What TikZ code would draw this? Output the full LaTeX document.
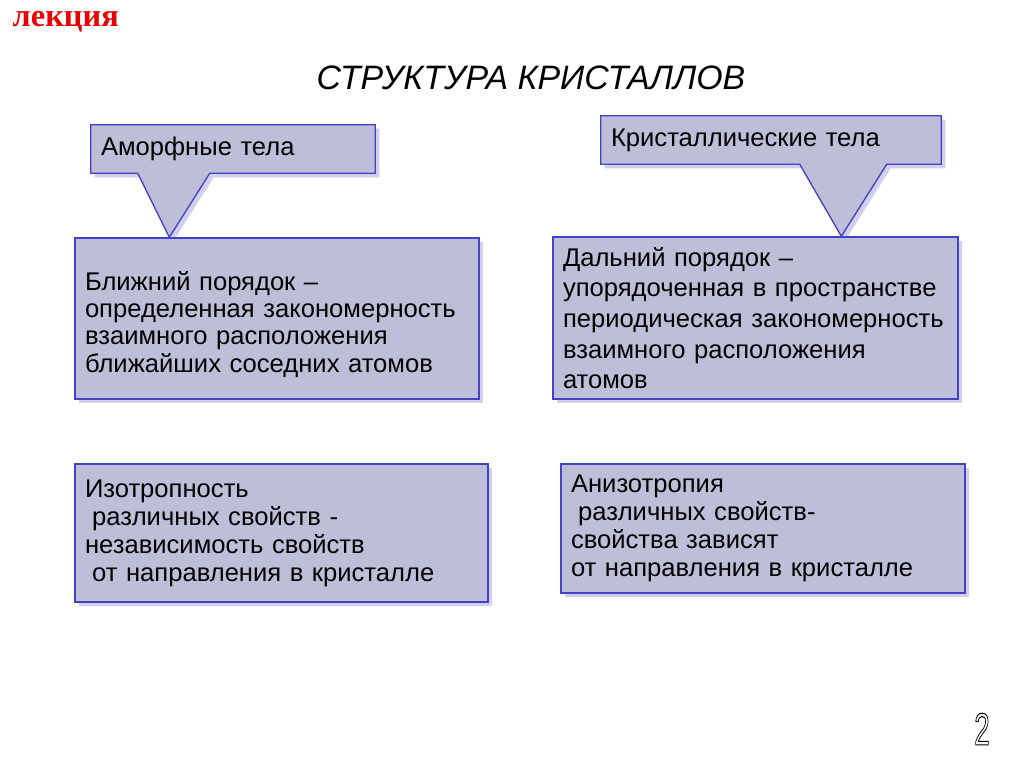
\documentclass[tikz,border=0pt]{standalone}
\usepackage{fontspec}
\setmainfont{Liberation Sans}
\newfontfamily\lectfont{Liberation Serif}
\usepackage{xcolor}
\usepackage{tikz}
\usetikzlibrary{shadows, calc, backgrounds}

\definecolor{boxfill}{RGB}{190,190,216}
\definecolor{boxedge}{RGB}{66,66,196}
\definecolor{boxshade}{RGB}{208,208,238}
\definecolor{lectred}{RGB}{232,0,0}

\begin{document}
\begin{tikzpicture}[x=0.75pt, y=0.75pt,
    panel/.style={rectangle, draw=boxedge, line width=1pt, fill=boxfill, drop shadow={shadow xshift=3pt, shadow yshift=-3pt, fill=boxshade, opacity=1}, inner xsep=7.5pt, inner ysep=4pt, align=left, font=\fontsize{19.2}{21}\selectfont},
    callout/.style={rectangle, minimum height=36pt, inner xsep=7.5pt, align=left, font=\fontsize{19.2}{21}\selectfont},
    balloon/.style={draw=boxedge, line width=1pt, fill=boxfill, line join=miter, drop shadow={shadow xshift=3pt, shadow yshift=-3pt, fill=boxshade, opacity=1}}
]
\useasboundingbox (0,0) rectangle (1024,767);

\node[anchor=west, font=\lectfont\bfseries\fontsize{24.3}{28}\selectfont, text=lectred] (lecture) at (8,745) {лекция};
\node[font=\itshape\fontsize{25.4}{30}\selectfont] (title) at (531,689) {СТРУКТУРА КРИСТАЛЛОВ};

\node[callout, minimum width=213pt, text width=198pt] (amorph) at (233,618) {Аморфные тела};
\node[callout, minimum width=255pt, text width=240pt] (cryst) at (771,627) {Кристаллические тела};

\node[panel, minimum width=303pt, minimum height=120.75pt, text width=288pt, font=\fontsize{19.2}{20.5}\selectfont] (short) at (277,448.5) {\rule{0pt}{23pt}Ближний порядок –\\определенная закономерность\\взаимного расположения\\ближайших соседних атомов};
\node[panel, minimum width=303.75pt, minimum height=121.5pt, text width=288.75pt, font=\fontsize{19.2}{23}\selectfont] (long) at (755.5,449) {Дальний порядок –\\упорядоченная в пространстве\\периодическая закономерность\\взаимного расположения\\атомов};
\node[panel, minimum width=309.75pt, minimum height=103.5pt, text width=294.75pt] (iso) at (281.5,234) {Изотропность\\\hspace*{0.28em}различных свойств -\\независимость свойств\\\hspace*{0.28em}от направления в кристалле};
\node[panel, minimum width=303pt, minimum height=96.75pt, text width=288pt] (aniso) at (763,238.5) {Анизотропия\\\hspace*{0.28em}различных свойств-\\свойства зависят\\от направления в кристалле};

% page number, outlined glyph
\node[font=\fontsize{34}{40}\selectfont] (page) at (982,38) {\scalebox{0.62}[1]{\special{pdf:literal direct 1 Tr 0.8 w}2\special{pdf:literal direct 0 Tr}}};

% callout balloons behind their texts
\begin{scope}[on background layer]
\path[balloon] (amorph.north west) -- (amorph.north east) -- (amorph.south east) -- ($(amorph.south west)+(119,0)$) -- ($(short.north west)+(95,0)$) -- ($(amorph.south west)+(47,0)$) -- (amorph.south west) -- cycle;
\path[balloon] (cryst.north west) -- (cryst.north east) -- (cryst.south east) -- ($(cryst.south west)+(286,0)$) -- ($(long.north west)+(289,0)$) -- ($(cryst.south west)+(199,0)$) -- (cryst.south west) -- cycle;
\end{scope}
\end{tikzpicture}
\end{document}
